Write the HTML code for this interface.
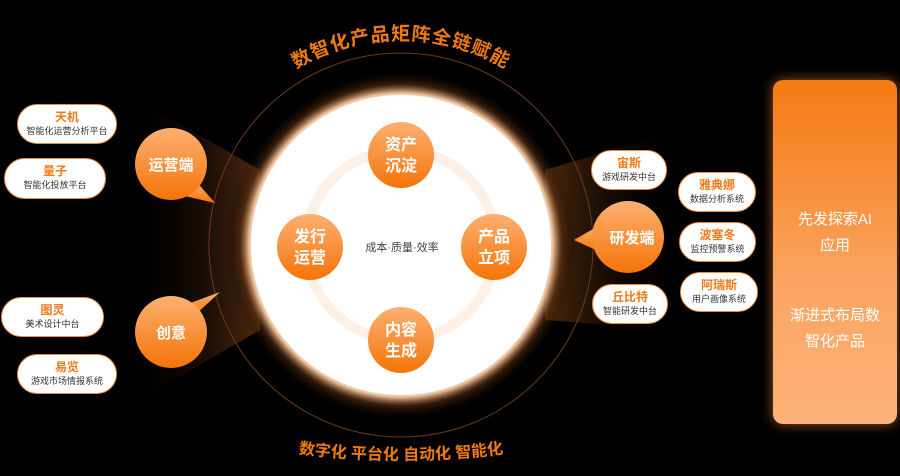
<!DOCTYPE html>
<html><head><meta charset="utf-8"><style>
body{margin:0;background:#000;}
.wrap{position:relative;width:900px;height:476px;overflow:hidden;background:#000;font-family:"Liberation Sans","Noto Sans CJK SC",sans-serif;}
.pill{position:absolute;background:#fff;border-radius:22px;border:1px solid #f08a3a;text-align:center;box-sizing:border-box;}
.pill b{display:block;color:#f07a1a;font-size:12px;font-weight:bold;margin-top:5px;line-height:15px;}
.pill span{display:block;color:#333;font-size:9px;line-height:13px;}
.panel{position:absolute;left:773px;top:80px;width:124px;height:344px;border-radius:10px;background:linear-gradient(180deg,#f57a12,#fba562 60%,#fcb27a);box-shadow:0 0 12px rgba(255,140,60,.6);color:#fff;text-align:center;font-size:15px;line-height:26px;}
</style></head><body><div class="wrap">
<svg width="900" height="476" style="position:absolute;left:0;top:0">
<defs>
<radialGradient id="glow" cx="401" cy="245" r="175" gradientUnits="userSpaceOnUse">
<stop offset="0.84" stop-color="#fff"/><stop offset="0.87" stop-color="#e8b890"/><stop offset="0.92" stop-color="#5a2e10" stop-opacity=".6"/><stop offset="1" stop-color="#000" stop-opacity="0"/></radialGradient>
<linearGradient id="coneL" x1="0" x2="1"><stop offset="0" stop-color="#000" stop-opacity="0"/><stop offset="1" stop-color="#5a2e10" stop-opacity=".9"/></linearGradient>
<linearGradient id="coneR" x1="1" x2="0"><stop offset="0" stop-color="#000" stop-opacity="0"/><stop offset="1" stop-color="#5a2e10" stop-opacity=".9"/></linearGradient>
<linearGradient id="ob" x1="0" y1="0" x2="0" y2="1"><stop offset="0" stop-color="#fdb072"/><stop offset="1" stop-color="#f57408"/></linearGradient>
<path id="arcT" d="M196,245 A205,205 0 0 1 606,245"/>
<path id="arcB" d="M151,420 A800,800 0 0 0 651,420"/>
</defs>
<polygon points="130,95 260,170 260,330 130,405" fill="url(#coneL)"/>
<polygon points="680,130 545,170 545,320 680,330" fill="url(#coneR)"/>
<circle cx="401" cy="245" r="192" fill="none" stroke="#6a3a14" stroke-width="1"/>
<circle cx="401" cy="245" r="175" fill="url(#glow)"/>
<circle cx="401" cy="245" r="150" fill="#fff"/>
<circle cx="401" cy="245" r="95" fill="none" stroke="#fdf0e6" stroke-width="10"/>
<text font-size="19" fill="#f07a12" font-weight="bold" letter-spacing="1" text-anchor="middle"><textPath href="#arcT" startOffset="50%">数智化产品矩阵全链赋能</textPath></text>
<text font-size="16" fill="#f07a12" font-weight="bold" text-anchor="middle"><textPath href="#arcB" startOffset="50%">数字化 平台化 自动化 智能化</textPath></text>
<g fill="url(#ob)">
<polygon points="195,180 215,203 180,195"/><circle cx="171" cy="164" r="36"/>
<polygon points="195,315 220,292 185,305"/><circle cx="171" cy="332" r="36"/>
<polygon points="600,225 574,240 600,252"/><circle cx="628" cy="237" r="36"/>
<circle cx="401" cy="155" r="33"/><circle cx="310" cy="247" r="33"/><circle cx="494" cy="247" r="33"/><circle cx="401" cy="340" r="33"/>
</g>
<g fill="#fff" font-size="15" font-weight="bold" text-anchor="middle">
<text x="171" y="170">运营端</text><text x="171" y="338">创意</text><text x="632" y="243">研发端</text>
<g font-size="16"><text x="401" y="150">资产</text><text x="401" y="171">沉淀</text>
<text x="310" y="242">发行</text><text x="310" y="263">运营</text>
<text x="494" y="242">产品</text><text x="494" y="263">立项</text>
<text x="401" y="335">内容</text><text x="401" y="356">生成</text></g>
</g>
<text x="402" y="251" font-size="11" fill="#444" text-anchor="middle">成本·质量·效率</text>
<g fill="none" stroke="#fff" stroke-width="1.5">
<rect x="817" y="128" width="24" height="52"/><rect x="841" y="143" width="15" height="37"/>
<line x1="811" y1="181" x2="863" y2="181"/><rect x="825" y="170" width="9" height="11"/>
<path d="M822,136h14M822,142h14M822,148h14M822,154h14M822,160h14M845,150h7M845,156h7M845,162h7M845,168h7"/>
</g>
</svg>
<div class="pill" style="left:17px;top:104px;width:100px;height:40px"><b>天机</b><span>智能化运营分析平台</span></div>
<div class="pill" style="left:4px;top:158px;width:102px;height:41px"><b>量子</b><span>智能化投放平台</span></div>
<div class="pill" style="left:1px;top:297px;width:103px;height:40px"><b>图灵</b><span>美术设计中台</span></div>
<div class="pill" style="left:17px;top:354px;width:100px;height:40px"><b>易览</b><span>游戏市场情报系统</span></div>
<div class="pill" style="left:591px;top:150px;width:76px;height:40px"><b>宙斯</b><span>游戏研发中台</span></div>
<div class="pill" style="left:678px;top:172px;width:78px;height:40px"><b>雅典娜</b><span>数据分析系统</span></div>
<div class="pill" style="left:679px;top:222px;width:77px;height:40px"><b>波塞冬</b><span>监控预警系统</span></div>
<div class="pill" style="left:680px;top:272px;width:78px;height:40px"><b>阿瑞斯</b><span>用户画像系统</span></div>
<div class="pill" style="left:592px;top:284px;width:76px;height:40px"><b>丘比特</b><span>智能研发中台</span></div>
<div class="panel"><div style="position:absolute;top:127px;width:100%">先发探索AI<br>应用</div><div style="position:absolute;top:223px;width:100%">渐进式布局数<br>智化产品</div></div>
</div></body></html>
